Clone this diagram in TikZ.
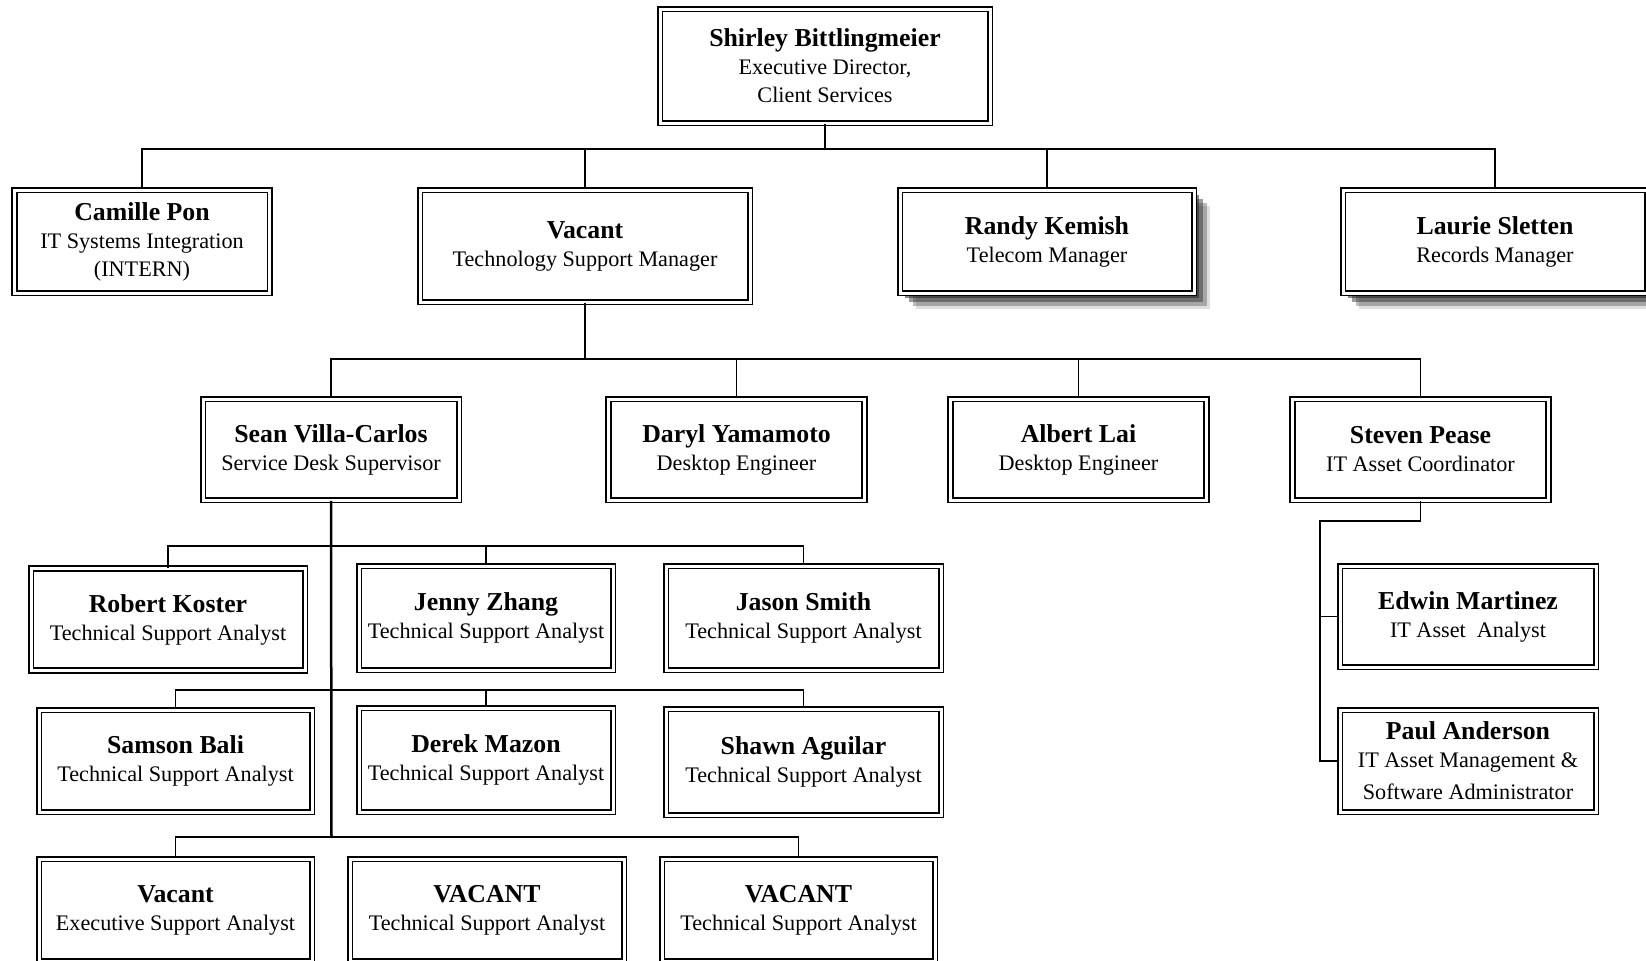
\documentclass[tikz,border=0pt]{standalone}
\usepackage{fontspec}
\setmainfont{Liberation Serif}
\usepackage{tikz}
\usetikzlibrary{shadows}

\newcommand{\namefont}{\fontsize{12.9}{14}\selectfont\bfseries}
\newcommand{\pers}[2]{{\namefont #1}\\#2}

\begin{document}
\begin{tikzpicture}[x=0.5pt, y=-0.5pt,
    box/.style={draw, double, double distance=1.5pt, line width=0.9pt, fill=white,
        align=center, inner sep=1pt, font=\fontsize{11.1}{14}\selectfont},
    lvl/.style={box, minimum width=128pt, minimum height=50.5pt},
    shade/.style={drop shadow={draw=none, fill=black!85, opacity=0.55, shadow xshift=2.5pt, shadow yshift=-2.5pt},
        drop shadow={draw=none, fill=black!85, opacity=0.45, shadow xshift=4.5pt, shadow yshift=-4.5pt},
        drop shadow={draw=none, fill=black!85, opacity=0.3, shadow xshift=6.5pt, shadow yshift=-6.5pt},
        drop shadow={draw=none, fill=black!85, opacity=0.15, shadow xshift=8pt, shadow yshift=-8pt}},
    link/.style={line width=0.8pt}]
    \useasboundingbox (0,0) rectangle (1646,960);

    % Top level
    \node[box, minimum width=165pt, minimum height=57pt] (shirley) at (825,66)
        {\pers{Shirley Bittlingmeier}{Executive Director,\\Client Services}};
    \node[box, minimum width=127.8pt, minimum height=51.5pt] (camille) at (142,241.5)
        {\pers{Camille Pon}{IT Systems Integration\\(INTERN)}};
    \node[box, minimum width=165pt, minimum height=56pt] (tsm) at (585,246)
        {\pers{Vacant}{Technology Support Manager}};
    \node[box, shade, minimum width=147pt, minimum height=51.5pt] (randy) at (1047,241.5)
        {\pers{Randy Kemish}{Telecom Manager}};
    \node[box, shade, minimum width=152pt, minimum height=51.5pt] (laurie) at (1495,241.5)
        {\pers{Laurie Sletten}{Records Manager}};

    % Second level
    \node[lvl] (sean) at (331,449.5) {\pers{Sean Villa-Carlos}{Service Desk Supervisor}};
    \node[lvl] (daryl) at (736.5,449.5) {\pers{Daryl Yamamoto}{Desktop Engineer}};
    \node[lvl] (albert) at (1078.5,449.5) {\pers{Albert Lai}{Desktop Engineer}};
    \node[lvl] (steven) at (1420.5,449.5) {\pers{Steven Pease}{IT Asset Coordinator}};

    % Asset team
    \node[lvl] (edwin) at (1468,616.5) {\pers{Edwin Martinez}{IT Asset\ \ Analyst}};
    \node[lvl, minimum height=51pt] (paul) at (1468,761)
        {\pers{Paul Anderson}{IT Asset Management \&\\[2pt]Software Administrator}};

    % Service desk
    \node[box, minimum width=137pt, minimum height=51pt] (robert) at (168,619.5)
        {\pers{Robert Koster}{Technical Support Analyst}};
    \node[box, minimum width=127pt, minimum height=52pt] (jenny) at (486,618)
        {\pers{Jenny Zhang}{Technical Support Analyst}};
    \node[box, minimum width=137.5pt, minimum height=52pt] (jason) at (803.5,618)
        {\pers{Jason Smith}{Technical Support Analyst}};
    \node[box, minimum width=136.5pt, minimum height=51pt] (samson) at (175.5,761)
        {\pers{Samson Bali}{Technical Support Analyst}};
    \node[box, minimum width=127pt, minimum height=52pt] (derek) at (486,760)
        {\pers{Derek Mazon}{Technical Support Analyst}};
    \node[box, minimum width=137.5pt, minimum height=53pt] (shawn) at (803.5,762)
        {\pers{Shawn Aguilar}{Technical Support Analyst}};
    \node[box, minimum width=136.5pt, minimum height=51pt] (esa) at (175.5,910)
        {\pers{Vacant}{Executive Support Analyst}};
    \node[box, minimum width=137pt, minimum height=51pt] (vac1) at (487,910)
        {\pers{VACANT}{Technical Support Analyst}};
    \node[box, minimum width=136.5pt, minimum height=51pt] (vac2) at (798.5,910)
        {\pers{VACANT}{Technical Support Analyst}};

    % Connectors
    \coordinate (b1) at (825,149);
    \coordinate (b2) at (585,359);
    \coordinate (s1) at (1320,521);
    \coordinate (r1) at (331.5,546);
    \coordinate (r2) at (331.5,690);
    \coordinate (r3) at (331.5,837);
    \draw[link] (shirley.south) -- (b1);
    \draw[link] (camille.north) |- (b1) -| (laurie.north);
    \draw[link] (tsm.north) -- (tsm.north |- b1);
    \draw[link] (randy.north) -- (randy.north |- b1);
    \draw[link] (tsm.south) -- (b2);
    \draw[link] (sean.north) |- (b2) -| (steven.north);
    \draw[link] (daryl.north) -- (daryl.north |- b2);
    \draw[link] (albert.north) -- (albert.north |- b2);
    \draw[link] (steven.south) |- (s1) |- (paul.west);
    \draw[link] (s1 |- edwin.west) -- (edwin.west);
    \draw[line width=1.25pt] (sean.south) -- (r3);
    \draw[link] (robert.north) |- (r1) -| (jason.north);
    \draw[link] (jenny.north) -- (jenny.north |- r1);
    \draw[link] (samson.north) |- (r2) -| (shawn.north);
    \draw[link] (derek.north) -- (derek.north |- r2);
    \draw[link] (esa.north) |- (r3) -| (vac2.north);
\end{tikzpicture}
\end{document}
